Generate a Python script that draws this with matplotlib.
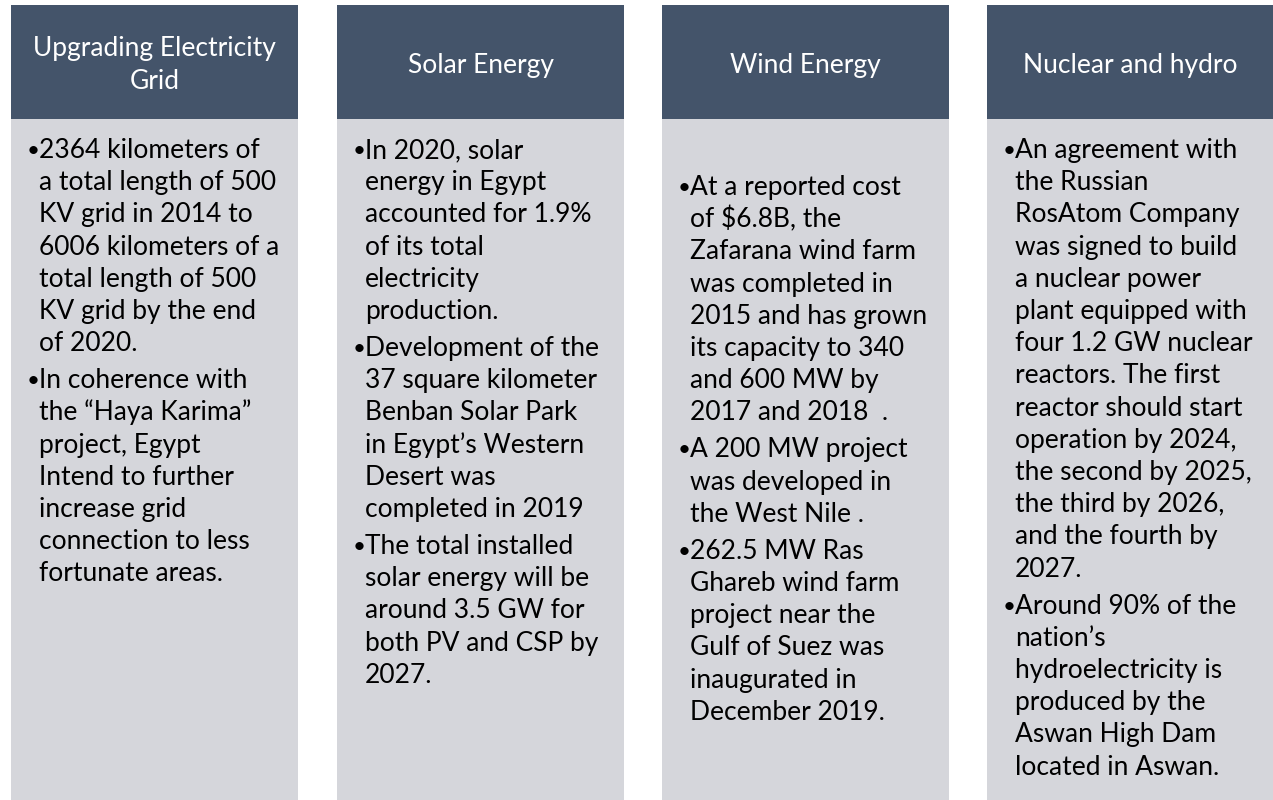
import matplotlib
matplotlib.use('Agg')
from matplotlib import pyplot as plt
from matplotlib.patches import Rectangle

# column titles
headers = [
    'Upgrading Electricity\nGrid',
    'Solar Energy',
    'Wind Energy',
    'Nuclear and hydro',
]

# bullet paragraphs, already broken into lines like the slide
grid_points = [
    ['2364 kilometers of', 'a total length of 500', 'KV grid in 2014 to',
     '6006 kilometers of a', 'total length of 500', 'KV grid by the end',
     'of 2020.'],
    ['In coherence with', 'the \u201cHaya Karima\u201d', 'project, Egypt',
     'Intend to further', 'increase grid', 'connection to less',
     'fortunate areas.'],
]
solar_points = [
    ['In 2020, solar', 'energy in Egypt', 'accounted for 1.9%', 'of its total',
     'electricity', 'production.'],
    ['Development of the', '37 square kilometer', 'Benban Solar Park',
     'in Egypt\u2019s Western', 'Desert was', 'completed in 2019'],
    ['The total installed', 'solar energy will be', 'around 3.5 GW for',
     'both PV and CSP by', '2027.'],
]
wind_points = [
    ['At a reported cost', 'of $6.8B, the', 'Zafarana wind farm',
     'was completed in', '2015 and has grown', 'its capacity to 340',
     'and 600 MW by', '2017 and 2018  .'],
    ['A 200 MW project', 'was developed in', 'the West Nile .'],
    ['262.5 MW Ras', 'Ghareb wind farm', 'project near the',
     'Gulf of Suez was', 'inaugurated in', 'December 2019.'],
]
nuclear_points = [
    ['An agreement with', 'the Russian', 'RosAtom Company',
     'was signed to build', 'a nuclear power', 'plant equipped with',
     'four 1.2 GW nuclear', 'reactors. The first', 'reactor should start',
     'operation by 2024,', 'the second by 2025,', 'the third by 2026,',
     'and the fourth by', '2027.'],
    ['Around 90% of the', 'nation\u2019s', 'hydroelectricity is',
     'produced by the', 'Aswan High Dam', 'located in Aswan.'],
]
columns = [grid_points, solar_points, wind_points, nuclear_points]

HEAD_COLOR = '#44546A'
BODY_COLOR = '#D5D6DB'
FONT = ['Lato', 'DejaVu Sans']
SIZE = 19

col_left = [11, 337, 662, 987]
col_width = 287
head_top, head_bottom = 5, 119
first_baseline = [158, 158, 195, 158]
line_step = 32.2
para_step = 37.0

fig = plt.figure(figsize=(12.73, 8), dpi=100)
ax = fig.add_axes([0, 0, 1, 1])
ax.set_xlim(0, 1273)
ax.set_ylim(800, 0)
ax.axis('off')

for i, (title, paras) in enumerate(zip(headers, columns)):
    x0 = col_left[i]
    ax.add_patch(Rectangle((x0, head_top), col_width, head_bottom - head_top,
                           facecolor=HEAD_COLOR, edgecolor='none'))
    ax.add_patch(Rectangle((x0, head_bottom), col_width, 800 - head_bottom,
                           facecolor=BODY_COLOR, edgecolor='none'))
    ax.text(x0 + col_width / 2, (head_top + head_bottom) / 2 + 3, title,
            ha='center', va='center', color='white', family=FONT,
            fontsize=SIZE, linespacing=1.4)

    y = first_baseline[i]
    for p, lines in enumerate(paras):
        if p > 0:
            y += para_step - line_step
        ax.text(x0 + 16, y - 1, '\u2022', ha='left', va='baseline',
                color='black', family=FONT, fontsize=SIZE * 0.85)
        for line in lines:
            ax.text(x0 + 28, y, line, ha='left', va='baseline',
                    color='black', family=FONT, fontsize=SIZE)
            y += line_step

fig.savefig('out.png', dpi=100)
